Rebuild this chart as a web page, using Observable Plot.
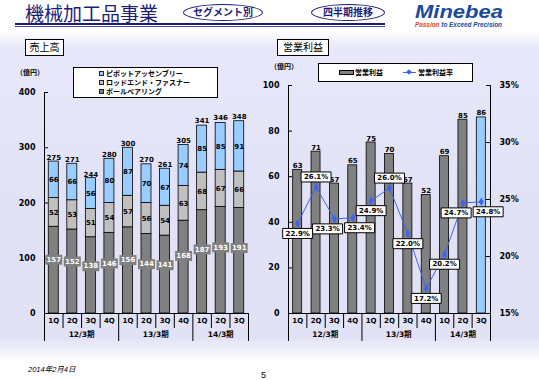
<!DOCTYPE html>
<html><head><meta charset="utf-8">
<script src="https://cdn.jsdelivr.net/npm/d3@7"></script>
<script src="https://cdn.jsdelivr.net/npm/@observablehq/plot@0.6"></script>
<style>
body{margin:0;}
#page{position:relative;width:539px;height:380px;overflow:hidden;
 background:linear-gradient(to bottom,#ffffff 0px,#ffffff 30px,#e8e8fa 48px,#e2e2f7 200px,#e2e2f7 338px,#ffffff 362px);
 font-family:"DejaVu Sans","Noto Sans CJK JP",sans-serif;}
.abs{position:absolute;white-space:nowrap;}
.jp{font-family:"Noto Sans CJK JP",sans-serif;}
.ell{position:absolute;border:1.5px solid #1c1c78;border-radius:50%;color:#1c1c78;font-weight:700;font-size:10px;text-align:center;line-height:14px;background:#fff;font-family:"Noto Sans CJK JP",sans-serif;}
.tbox{position:absolute;border:1px solid #000;background:#fff;font-size:10px;line-height:14px;text-align:center;font-family:"Noto Sans CJK JP",sans-serif;}
.leg{position:absolute;border:1px solid #000;background:#fff;}
.lrow{position:absolute;font-size:7px;font-weight:700;line-height:8px;font-family:"Noto Sans CJK JP",sans-serif;}
.sq{display:inline-block;width:3px;height:3px;border:1px solid #222;margin-right:2px;vertical-align:0px;}
svg{position:absolute;top:0;}
</style></head>
<body><div id="page">
<div class="abs jp" style="left:25px;top:2px;font-size:19px;line-height:21px;color:#1c1c78;">機械加工品事業</div>
<div class="abs" style="left:15px;top:23px;width:370px;height:2px;background:#1c1c78;"></div>
<div class="abs" style="left:15px;top:26px;width:370px;height:1px;background:#4a4aa0;"></div>
<div class="ell" style="left:183px;top:4px;width:78px;height:15px;">セグメント別</div>
<div class="ell" style="left:311px;top:4px;width:72px;height:15px;">四半期推移</div>
<div class="abs" style="left:415px;top:3px;font-family:'Liberation Sans',sans-serif;font-weight:700;font-style:italic;font-size:18px;line-height:18px;color:#1a4b9c;transform:scale(1.22,1);transform-origin:left top;">Minebea</div>
<div class="abs" style="left:415px;top:21px;font-family:'Liberation Sans',sans-serif;font-weight:700;font-style:italic;font-size:6.4px;line-height:8px;color:#1a4b9c;"><span style="color:#e04a1c">Passion</span> to Exceed Precision</div>

<div class="tbox" style="left:25px;top:39px;width:37px;height:15px;">売上高</div>
<div class="tbox" style="left:277px;top:39px;width:50px;height:15px;">営業利益</div>
<div class="abs jp" style="left:16px;top:67px;font-size:7px;font-weight:700;">（億円）</div>
<div class="abs jp" style="left:270px;top:61px;font-size:7px;font-weight:700;">（億円）</div>

<div id="chart"></div>

<div class="leg" style="left:73px;top:67px;width:143px;height:29px;">
  <div class="lrow" style="left:25px;top:1px;"><span class="sq" style="background:#99ccff"></span>ピボットアッセンブリー</div>
  <div class="lrow" style="left:25px;top:10px;"><span class="sq" style="background:#c0c0c0"></span>ロッドエンド・ファスナー</div>
  <div class="lrow" style="left:25px;top:19px;"><span class="sq" style="background:#808080"></span>ボールベアリング</div>
</div>
<div class="leg" style="left:318px;top:63px;width:153px;height:17px;">
  <div class="abs" style="left:20px;top:6px;width:13px;height:3px;background:#808080;border:1px solid #000;"></div>
  <div class="lrow" style="left:36px;top:4px;">営業利益</div>
  <div class="abs" style="left:84px;top:8px;width:13px;height:1px;background:#3d63f5;"></div>
  <div class="abs" style="left:88px;top:6px;width:4px;height:4px;background:#3d63f5;transform:rotate(45deg);"></div>
  <div class="lrow" style="left:99px;top:4px;">営業利益率</div>
</div>

<div class="abs" style="left:28px;top:363px;font-size:7.5px;font-style:italic;font-family:'Liberation Sans','Noto Sans CJK JP',sans-serif;">2014年2月4日</div>
<div class="abs" style="left:261px;top:370px;font-size:9px;font-family:'Liberation Sans',sans-serif;">5</div>
</div>
<script>
// ---- data ----
const quarters = ["1Q","2Q","3Q","4Q","1Q","2Q","3Q","4Q","1Q","2Q","3Q"];
const fiscalYears = ["12/3期","12/3期","12/3期","12/3期","13/3期","13/3期","13/3期","13/3期","14/3期","14/3期","14/3期"];
const ballBearing = [157,152,138,146,156,144,141,168,187,193,191];
const rodEndFastener = [52,53,51,54,57,56,54,63,68,67,66];
const pivotAssembly = [66,66,56,80,87,70,67,74,85,85,91];
const salesTotal = [275,271,244,280,300,270,261,305,341,346,348];
const operatingIncome = [63,71,57,65,75,70,57,52,69,85,86];
const operatingMargin = [22.9,26.1,23.3,23.4,24.9,26.0,22.0,17.2,20.2,24.7,24.8];
const salesTicks = [0,100,200,300,400];
const incomeTicks = [0,20,40,60,80,100];
const marginTicks = [15,20,25,30,35];

// ---- helpers ----
const page = document.getElementById("page");
const idx = d3.range(quarters.length);
const n = quarters.length;
const xDomain = [-0.5, n - 0.5];
const bold = {fontWeight: "bold"};
const minorB = [], majorB = [-0.5, n - 0.5];
for (let i = 0; i < n - 1; i++) (fiscalYears[i] !== fiscalYears[i + 1] ? majorB : minorB).push(i + 0.5);
const groups = d3.groups(idx, i => fiscalYears[i]).map(([k, is]) => ({k, c: d3.mean(is)}));
const boxSymbol = (w, h) => ({draw(ctx) { ctx.moveTo(-w/2,-h/2); ctx.lineTo(w/2,-h/2); ctx.lineTo(w/2,h/2); ctx.lineTo(-w/2,h/2); ctx.closePath(); }});
const fills = {ball: "#808080", rod: "#c0c0c0", pivot: "#99ccff"};

function categoryMarks(yTop) {
  return [
    Plot.ruleY([0], {stroke: "#000"}),
    Plot.ruleX(minorB, {y1: 0, y2: 0, insetBottom: -15, stroke: "#000"}),
    Plot.ruleX(majorB, {y1: 0, y2: 0, insetBottom: -28, stroke: "#000"}),
    Plot.ruleX([-0.5], {y1: yTop, y2: 0, stroke: "#000"}),
    Plot.text(idx, {x: i => i, text: i => quarters[i], frameAnchor: "bottom", dy: 9, fontSize: 7, ...bold}),
    Plot.text(groups, {x: "c", text: "k", frameAnchor: "bottom", dy: 23, fontSize: 7.5, ...bold})
  ];
}

// ---- left: sales ----
const segs = [];
idx.forEach(i => {
  const a = ballBearing[i], b = rodEndFastener[i], c = pivotAssembly[i];
  segs.push({i, key: "ball", y1: 0, y2: a, v: a});
  segs.push({i, key: "rod", y1: a, y2: a + b, v: b});
  segs.push({i, key: "pivot", y1: a + b, y2: a + b + c, v: c});
});
const left = Plot.plot({
  width: 270, height: 380, marginLeft: 44, marginRight: 22, marginTop: 92, marginBottom: 67,
  style: {background: "transparent", overflow: "visible", fontFamily: "'DejaVu Sans','Noto Sans CJK JP',sans-serif"},
  x: {type: "linear", domain: xDomain, axis: null},
  y: {domain: [0, 400], axis: null},
  color: {type: "identity"},
  marks: [
    Plot.rect(segs, {x1: d => d.i - 0.27, x2: d => d.i + 0.27, y1: "y1", y2: "y2", fill: d => fills[d.key], stroke: "#000", strokeWidth: 0.8}),
    ...categoryMarks(400),
    Plot.ruleY(salesTicks, {x1: -0.5, x2: -0.5, insetRight: -4, stroke: "#000"}),
    Plot.axisY(salesTicks, {tickSize: 0, tickPadding: 9, fontSize: 8, ...bold, tickFormat: d => d}),
    Plot.text(segs.filter(d => d.key !== "ball"), {x: "i", y: d => (d.y1 + d.y2) / 2, text: "v", fontSize: 7, ...bold, fill: "#000"}),
    Plot.dot(segs.filter(d => d.key === "ball"), {x: "i", y: d => d.v * 0.62, r: 3, symbol: boxSymbol(17, 10), fill: "#808080"}),
    Plot.text(segs.filter(d => d.key === "ball"), {x: "i", y: d => d.v * 0.62, text: "v", fontSize: 7, ...bold, fill: "#fff"}),
    Plot.text(idx, {x: i => i, y: i => salesTotal[i], text: i => salesTotal[i], lineAnchor: "bottom", dy: -2, fontSize: 7, ...bold})
  ]
});
left.style.left = "0px";
page.appendChild(left);

// ---- right: operating income & margin ----
const RW = 269, RML = 18, RMR = 49, RMT = 85, RMB = 67;
const toY = m => (m - 15) / 20 * 100;
const fromY = y => 15 + y / 100 * 20;
const pxX = (RW - RML - RMR) / n, pxY = (380 - RMT - RMB) / 100;
// simple label dodge: push neighbouring boxed labels apart horizontally when they collide
const mlabels = idx.map(i => {
  const side = operatingMargin[i] > 25 ? -1 : 1;
  return {i, m: operatingMargin[i], dy: side * 10, px: i * pxX, py: -toY(operatingMargin[i]) * pxY + side * 10, shift: 0};
});
for (let k = 1; k < mlabels.length; k++) {
  const a = mlabels[k - 1], b = mlabels[k];
  const gap = (b.px + b.shift) - (a.px + a.shift);
  if (Math.abs(b.py - a.py) < 11 && gap < 32) { const s = (32 - gap) / 2; a.shift -= s; b.shift += s; }
}
const lx = d => d.i + d.shift / pxX;
const right = Plot.plot({
  width: RW, height: 380, marginLeft: RML, marginRight: RMR, marginTop: RMT, marginBottom: RMB,
  style: {background: "transparent", overflow: "visible", fontFamily: "'DejaVu Sans','Noto Sans CJK JP',sans-serif"},
  x: {type: "linear", domain: xDomain, axis: null},
  y: {domain: [0, 100], axis: null},
  color: {type: "identity"},
  marks: [
    Plot.rect(idx, {x1: i => i - 0.245, x2: i => i + 0.245, y1: 0, y2: i => operatingIncome[i], fill: i => i === n - 1 ? "#99ccff" : "#808080", stroke: "#000", strokeWidth: 0.8}),
    ...categoryMarks(100),
    Plot.ruleX([n - 0.5], {y1: 100, y2: 0, stroke: "#000"}),
    Plot.ruleY(incomeTicks, {x1: -0.5, x2: -0.5, insetRight: -4, stroke: "#000"}),
    Plot.ruleY(marginTicks.map(toY), {x1: n - 0.5, x2: n - 0.5, insetLeft: -4, stroke: "#000"}),
    Plot.axisY(incomeTicks, {tickSize: 0, tickPadding: 9, fontSize: 8, ...bold, tickFormat: d => d}),
    Plot.axisY(marginTicks.map(toY), {anchor: "right", tickSize: 0, tickPadding: 9, fontSize: 8, ...bold, tickFormat: d => `${Math.round(fromY(d))}%`}),
    Plot.text(idx, {x: i => i, y: i => operatingIncome[i], text: i => operatingIncome[i], lineAnchor: "bottom", dy: -2, fontSize: 7, ...bold}),
    Plot.line(idx, {x: i => i, y: i => toY(operatingMargin[i]), stroke: "#3d63f5", strokeWidth: 1}),
    Plot.dot(idx, {x: i => i, y: i => toY(operatingMargin[i]), symbol: "diamond", r: 2.6, fill: "#3d63f5"}),
    ...[-10, 10].flatMap(dy => {
      const sub = mlabels.filter(d => d.dy === dy);
      return [
        Plot.dot(sub, {x: lx, y: d => toY(d.m), dy, r: 3, symbol: boxSymbol(30, 10), fill: "#fff", stroke: "#000", strokeWidth: 1}),
        Plot.text(sub, {x: lx, y: d => toY(d.m), dy, text: d => d.m.toFixed(1) + "%", fontSize: 7, ...bold})
      ];
    })
  ]
});
right.style.left = "270px";
page.appendChild(right);
</script>
</body></html>
